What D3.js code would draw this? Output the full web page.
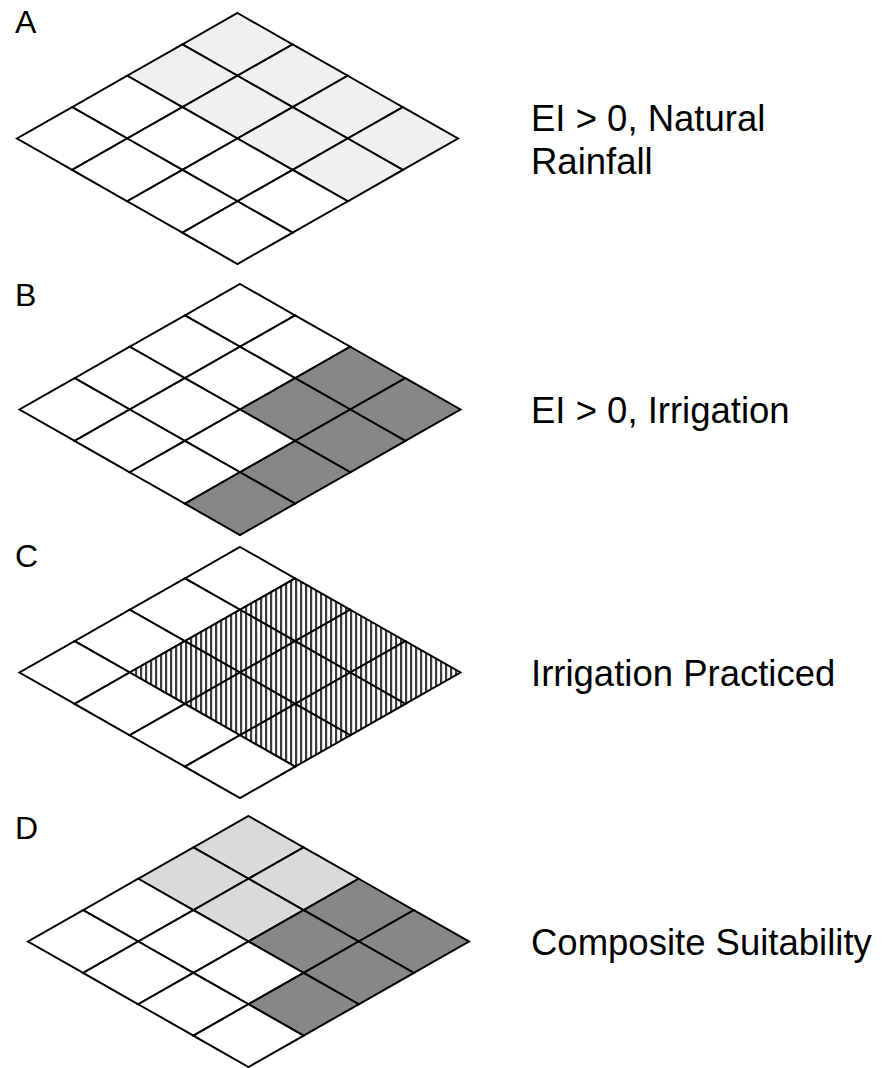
<!DOCTYPE html>
<html>
<head>
<meta charset="utf-8">
<script src="https://cdn.jsdelivr.net/npm/d3@7"></script>
<style>
  body { margin: 0; background: #fff; }
  text { font-family: "Liberation Sans", Arial, sans-serif; fill: #000; }
</style>
</head>
<body>
<div id="chart"></div>
<script>
// panel letters and captions
var panelLetters = ["A", "B", "C", "D"];
var panelCaptions = [
  ["EI > 0, Natural", "Rainfall"],
  ["EI > 0, Irrigation"],
  ["Irrigation Practiced"],
  ["Composite Suitability"]
];

// cell classes per panel, rows run down-left (v), columns down-right (u)
// 0 = none, 1 = natural rainfall, 2 = suitable, 3 = irrigated, 4 = marginal
var gridA = [[1,1,1,1],[1,1,1,1],[0,0,0,0],[0,0,0,0]];
var gridB = [[0,0,2,2],[0,0,2,2],[0,0,0,2],[0,0,0,2]];
var gridC = [[0,3,3,3],[0,3,3,3],[0,3,3,3],[0,0,0,0]];
var gridD = [[4,4,2,2],[4,4,2,2],[0,0,0,2],[0,0,0,0]];
var grids = [gridA, gridB, gridC, gridD];

var classFill = {0: "#ffffff", 1: "#f0f0f0", 2: "#878787", 3: "url(#hatch)", 4: "#dbd9d9"};

// layout of each diamond (top vertex y, centre x)
var panelTop = [13, 284, 547, 816];
var panelCx = [237.5, 240, 240, 248.5];
var letterBase = [33, 306, 567, 839];

var width = 882, height = 1068;

var svg = d3.select("#chart").append("svg")
  .attr("width", width)
  .attr("height", height);

var defs = svg.append("defs");
var hatch = defs.append("pattern")
  .attr("id", "hatch")
  .attr("patternUnits", "userSpaceOnUse")
  .attr("width", 5)
  .attr("height", 5);
hatch.append("rect").attr("width", 5).attr("height", 5).attr("fill", "#fff");
hatch.append("rect").attr("x", 0).attr("width", 2.2).attr("height", 5).attr("fill", "#3a3a3a");

// isometric scales: x from (u - v), y from (u + v)
var xScale = d3.scaleLinear().domain([-4, 4]).range([-220.5, 220.5]);
var yScale = d3.scaleLinear().domain([0, 8]).range([0, 251]);

function pt(u, v) { return [xScale(u - v), yScale(u + v)]; }

grids.forEach(function(grid, p) {
  var g = svg.append("g")
    .attr("transform", "translate(" + panelCx[p] + "," + panelTop[p] + ")");

  var cells = [];
  grid.forEach(function(row, v) {
    row.forEach(function(c, u) { cells.push({u: u, v: v, c: c}); });
  });

  g.selectAll("polygon")
    .data(cells)
    .enter()
    .append("polygon")
      .attr("points", function(d) {
        return [pt(d.u, d.v), pt(d.u + 1, d.v), pt(d.u + 1, d.v + 1), pt(d.u, d.v + 1)]
          .map(function(q) { return q.join(","); }).join(" ");
      })
      .style("fill", function(d) { return classFill[d.c]; })
      .style("stroke", "#000")
      .style("stroke-width", 2)
      .style("stroke-linejoin", "miter");

  svg.append("text")
    .attr("x", 15)
    .attr("y", letterBase[p])
    .style("font-size", "32px")
    .text(panelLetters[p]);

  var caps = panelCaptions[p];
  var cy = panelTop[p] + 127 - (caps.length - 1) * 21.5 + 12;
  caps.forEach(function(line, k) {
    svg.append("text")
      .attr("x", 531)
      .attr("y", cy + k * 43)
      .style("font-size", "36.5px")
      .text(line);
  });
});
</script>
</body>
</html>
